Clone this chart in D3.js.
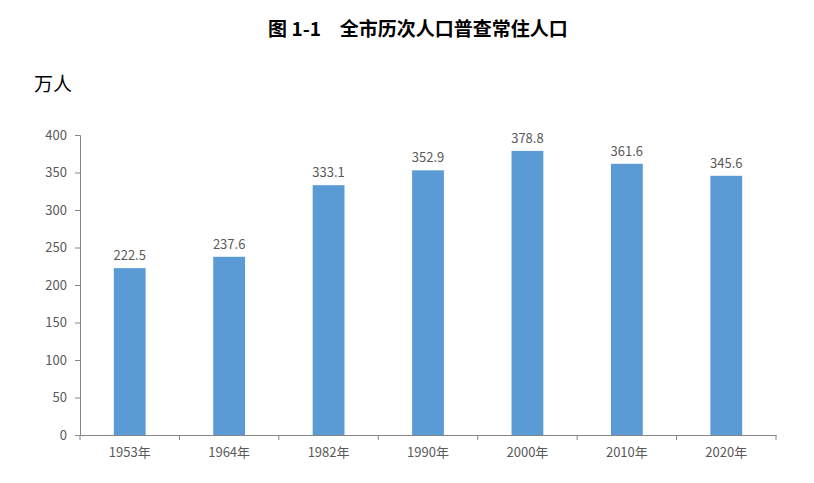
<!DOCTYPE html>
<html><head><meta charset="utf-8">
<script src="https://cdn.jsdelivr.net/npm/d3@7"></script>
<style>body{margin:0;background:#fff}</style></head>
<body><svg id="c" width="814" height="483"></svg>
<script>
const categories=["1953年","1964年","1982年","1990年","2000年","2010年","2020年"];
const values=[222.5,237.6,333.1,352.9,378.8,361.6,345.6];
const yTicks=[0,50,100,150,200,250,300,350,400];
const svg=d3.select("#c");
const font="'Noto Sans CJK SC','Noto Sans',sans-serif";
const x=d3.scaleBand().domain(categories).range([80,776]).paddingInner(0.68).paddingOuter(0.34);
const y=d3.scaleLinear().domain([0,400]).range([435,135]);
svg.append("text").attr("x",418).attr("y",36).attr("text-anchor","middle").attr("font-family",font).attr("font-size",19).attr("font-weight","bold").attr("fill","#000").text("图 1-1　全市历次人口普查常住人口");
svg.append("text").attr("x",34).attr("y",91).attr("font-family",font).attr("font-size",19).attr("fill","#000").text("万人");
const ya=svg.append("g").attr("transform","translate(80,0)").call(d3.axisLeft(y).tickValues(yTicks).tickSize(5).tickPadding(8));
ya.selectAll("text").attr("font-family",font).attr("font-size",13).attr("fill","#595959");
ya.selectAll("line,path").attr("stroke","#868686");
const xa=svg.append("g").attr("transform","translate(0,435)").call(d3.axisBottom(x).tickSize(0).tickPadding(13));
xa.selectAll("text").attr("font-family",font).attr("font-size",13).attr("fill","#595959");
xa.select("path").attr("stroke","#868686");
const step=x.step();
const bnd=categories.map((c,i)=>x(c)+x.bandwidth()/2-step/2).concat([x(categories[6])+x.bandwidth()/2+step/2]);
svg.selectAll(".xt").data(bnd).enter().append("line").attr("x1",d=>d).attr("x2",d=>d).attr("y1",435).attr("y2",440).attr("stroke","#868686");
svg.selectAll(".bar").data(values).enter().append("rect").attr("x",(d,i)=>x(categories[i])).attr("width",x.bandwidth()).attr("y",d=>y(d)).attr("height",d=>435-y(d)).attr("fill","#5b9bd5");
svg.selectAll(".lbl").data(values).enter().append("text").attr("x",(d,i)=>x(categories[i])+x.bandwidth()/2).attr("y",d=>y(d)-8).attr("text-anchor","middle").attr("font-family",font).attr("font-size",13).attr("fill","#595959").text(d=>d.toFixed(1));
</script></body></html>
